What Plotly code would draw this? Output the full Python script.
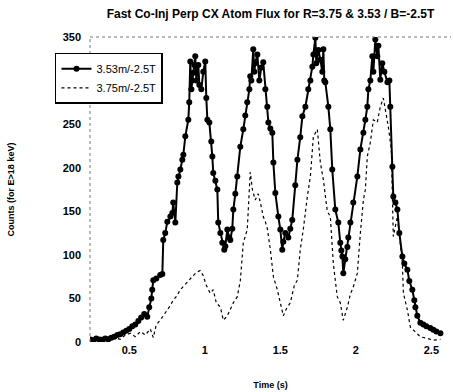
import plotly.graph_objects as go

# Series 1: 3.53m/-2.5T (solid with markers)
t_353 = [0.242, 0.262, 0.281, 0.301, 0.321, 0.341, 0.361, 0.381, 0.401, 0.421, 0.440, 0.460, 0.480,
         0.500, 0.520, 0.540, 0.560, 0.579, 0.599, 0.619, 0.632, 0.646, 0.652, 0.659, 0.679, 0.705,
         0.719, 0.725, 0.738, 0.752, 0.772, 0.785, 0.791, 0.805, 0.818, 0.825, 0.838, 0.851, 0.858,
         0.871, 0.891, 0.897, 0.904, 0.911, 0.917, 0.924, 0.930, 0.937, 0.944, 0.957, 0.964, 0.977,
         0.990, 1.003, 1.010, 1.017, 1.030, 1.043, 1.050, 1.056, 1.070, 1.083, 1.089, 1.103, 1.116,
         1.129, 1.136, 1.149, 1.162, 1.169, 1.182, 1.189, 1.202, 1.215, 1.235, 1.255, 1.268, 1.281,
         1.295, 1.301, 1.308, 1.321, 1.328, 1.334, 1.348, 1.361, 1.374, 1.387, 1.401, 1.414, 1.421,
         1.434, 1.447, 1.454, 1.467, 1.487, 1.500, 1.513, 1.520, 1.533, 1.553, 1.566, 1.579, 1.599,
         1.613, 1.632, 1.646, 1.666, 1.685, 1.699, 1.712, 1.719, 1.732, 1.738, 1.752, 1.765, 1.778,
         1.785, 1.791, 1.798, 1.818, 1.831, 1.844, 1.864, 1.884, 1.897, 1.904, 1.911, 1.917, 1.930,
         1.944, 1.950, 1.964, 1.983, 2.010, 2.030, 2.050, 2.063, 2.076, 2.083, 2.096, 2.109, 2.116,
         2.129, 2.142, 2.149, 2.162, 2.175, 2.189, 2.209, 2.222, 2.228, 2.242, 2.248, 2.262, 2.275,
         2.288, 2.308, 2.321, 2.341, 2.354, 2.374, 2.387, 2.394, 2.407, 2.427, 2.447, 2.467, 2.493,
         2.513, 2.533, 2.560]
c_353 = [3, 2, 4, 3, 2, 4, 3, 5, 6, 8, 9, 11, 13,
         15, 18, 20, 24, 28, 32, 29, 40, 50, 60, 71, 73, 77,
         78, 117, 125, 138, 144, 148, 160, 137, 183, 190, 198, 209, 215,
         236, 255, 275, 322, 290, 300, 309, 318, 328, 300, 318, 295, 290,
         310, 322, 280, 255, 252, 230, 213, 194, 185, 175, 137, 125, 114,
         106, 110, 129, 120, 117, 130, 152, 170, 190, 224, 244, 260, 275,
         290, 305, 300, 336, 310, 320, 330, 300, 315, 321, 290, 270, 252,
         245, 240, 206, 171, 144, 129, 106, 115, 125, 120, 130, 140, 180,
         209, 235, 259, 270, 290, 300, 316, 330, 349, 320, 335, 324, 310,
         336, 300, 298, 270, 244, 198, 152, 137, 114, 105, 98, 79, 95,
         109, 120, 137, 160, 190, 221, 240, 255, 270, 290, 300, 328, 310,
         347, 328, 340, 301, 320, 310, 298, 300, 270, 201, 167, 160, 152,
         125, 98, 90, 83, 70, 60, 48, 40, 30, 22, 20, 18, 16,
         14, 12, 10]

# Series 2: 3.75m/-2.5T (dotted)
t_375 = [0.242, 0.275, 0.308, 0.341, 0.374, 0.407, 0.440, 0.474, 0.507, 0.540, 0.573, 0.606, 0.639,
         0.659, 0.679, 0.705, 0.725, 0.745, 0.772, 0.791, 0.811, 0.838, 0.864, 0.891, 0.917, 0.944,
         0.970, 0.990, 1.010, 1.036, 1.056, 1.076, 1.103, 1.123, 1.149, 1.169, 1.189, 1.215, 1.235,
         1.255, 1.281, 1.301, 1.315, 1.334, 1.354, 1.368, 1.387, 1.401, 1.414, 1.434, 1.454, 1.480,
         1.500, 1.520, 1.540, 1.566, 1.593, 1.613, 1.632, 1.652, 1.679, 1.699, 1.719, 1.745, 1.765,
         1.785, 1.811, 1.831, 1.851, 1.877, 1.897, 1.917, 1.944, 1.964, 1.983, 2.010, 2.030, 2.050,
         2.063, 2.076, 2.096, 2.116, 2.142, 2.162, 2.182, 2.202, 2.215, 2.235, 2.248, 2.275, 2.295,
         2.308, 2.315, 2.341, 2.361, 2.394, 2.427, 2.474, 2.513, 2.560]
c_375 = [5, 3, 6, 4, 7, 5, 3, 8, 10, 6, 12, 8, 15,
         5, 20, 25, 30, 35, 42, 48, 52, 60, 65, 70, 75, 80,
         82, 76, 65, 56, 60, 45, 40, 25, 30, 37, 45, 52, 70,
         114, 129, 195, 175, 163, 170, 160, 144, 138, 130, 106, 75, 60,
         45, 30, 38, 45, 65, 71, 106, 129, 167, 190, 236, 244, 206,
         186, 150, 144, 90, 52, 45, 25, 40, 55, 63, 79, 125, 163,
         175, 213, 229, 255, 252, 270, 280, 260, 247, 221, 121, 144, 110,
         91, 56, 37, 17, 12, 6, 4, 2, 3]

x_ticks = [0.5, 1, 1.5, 2, 2.5]
x_tick_labels = ["0.5", "1", "1.5", "2", "2.5"]
y_ticks = [0, 50, 100, 150, 200, 250, 300, 350]

FONT = "Liberation Sans, Arial, sans-serif"

fig = go.Figure()
fig.add_trace(go.Scatter(
    x=t_353, y=c_353, name="3.53m/-2.5T", mode="lines+markers",
    line=dict(color="black", width=2),
    marker=dict(symbol="circle", size=6, color="black"),
))
fig.add_trace(go.Scatter(
    x=t_375, y=c_375, name="3.75m/-2.5T", mode="lines",
    line=dict(color="black", width=1.2, dash="dot"),
))

fig.update_layout(
    width=453, height=392,
    margin=dict(l=90, r=2, t=37, b=50),
    paper_bgcolor="white", plot_bgcolor="white",
    font=dict(family=FONT, color="black"),
    title=dict(text="Fast Co-Inj Perp CX Atom Flux for R=3.75 & 3.53 / B=-2.5T",
               x=0.5, xref="paper", y=0.975, yref="container", xanchor="center", yanchor="top",
               font=dict(size=12, family=FONT, weight="bold")),
    showlegend=True,
    legend=dict(x=-0.097, y=0.948, xanchor="left", yanchor="top",
                bgcolor="white", bordercolor="black", borderwidth=1.5,
                font=dict(size=11, family=FONT),
                tracegroupgap=0, itemwidth=30),
    xaxis=dict(range=[0.24, 2.63], tickvals=x_ticks, ticktext=x_tick_labels,
               showgrid=False, zeroline=False, showline=False, ticks="",
               tickfont=dict(size=11, family=FONT, weight="bold"),
               title=dict(text="Time (s)", font=dict(size=9, family=FONT, weight="bold"), standoff=26)),
    yaxis=dict(range=[0, 350], tickvals=y_ticks,
               showgrid=False, zeroline=False, showline=False, ticks="",
               ticklabelstandoff=8,
               tickfont=dict(size=11, family=FONT, weight="bold"),
               title=dict(text="Counts (for E>18 keV)", font=dict(size=9, family=FONT, weight="bold"), standoff=46)),
)

# sparse dotted frame lines (left and top) as in the scanned original
fig.add_shape(type="line", xref="paper", yref="paper", x0=0, x1=0, y0=0, y1=1,
              line=dict(color="#777", width=1, dash="dot"))
fig.add_shape(type="line", xref="paper", yref="paper", x0=0, x1=1, y0=1, y1=1,
              line=dict(color="#777", width=1, dash="dot"))

fig.write_html("out.html")
